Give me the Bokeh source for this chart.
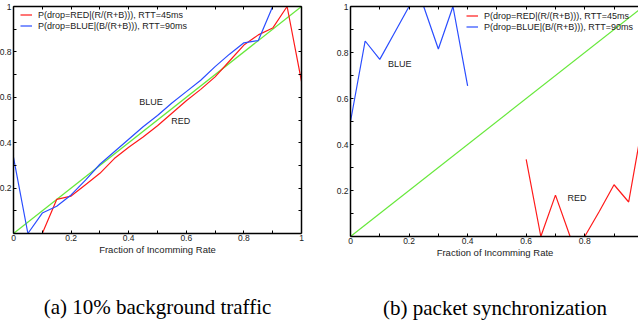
from bokeh.plotting import figure
from bokeh.models import (LinearAxis, FixedTicker, Legend, LegendItem, Label,
                          Title, Range1d, CustomLabelingPolicy)
from bokeh.layouts import row
from bokeh.embed import file_html
from bokeh.resources import INLINE

# ---------------- data ----------------
x_major = [0.0, 0.2, 0.4, 0.6, 0.8, 1.0]
x_major_labels = ["0", "0.2", "0.4", "0.6", "0.8", "1"]
y_major = [0.2, 0.4, 0.6, 0.8, 1.0]
y_major_labels = ["0.2", "0.4", "0.6", "0.8", "1"]
minor = [0.1, 0.3, 0.5, 0.7, 0.9]

diag_x = [0.0, 1.0]
diag_y = [0.0, 1.0]

# (a) 10% background traffic
a_red_x = [0.10, 0.15, 0.20, 0.25, 0.30, 0.35, 0.40, 0.45, 0.50, 0.55, 0.60,
           0.65, 0.70, 0.75, 0.80, 0.85, 0.90, 0.95, 1.00]
a_red_y = [0.00, 0.15, 0.165, 0.215, 0.265, 0.33, 0.38, 0.425, 0.475, 0.53,
           0.585, 0.635, 0.69, 0.76, 0.83, 0.875, 0.905, 1.00, 0.67]
a_blue_x = [0.00, 0.05, 0.10, 0.15, 0.20, 0.25, 0.30, 0.35, 0.40, 0.45, 0.50,
            0.55, 0.60, 0.65, 0.70, 0.75, 0.80, 0.85, 0.90]
a_blue_y = [0.335, 0.00, 0.09, 0.12, 0.17, 0.235, 0.305, 0.36, 0.415, 0.47,
            0.52, 0.575, 0.625, 0.675, 0.735, 0.79, 0.84, 0.85, 1.00]

# (b) packet synchronization
b_blue_x = [0.00, 0.05, 0.10, 0.15, 0.20, 0.25, 0.30, 0.35, 0.40]
b_blue_y = [0.50, 0.85, 0.77, 0.885, 1.00, 1.00, 0.815, 1.00, 0.655]
b_red_x = [0.60, 0.65, 0.70, 0.75, 0.80, 0.85, 0.90, 0.95, 1.00]
b_red_y = [0.335, 0.00, 0.18, 0.00, 0.00, 0.11, 0.225, 0.15, 0.51]

red_label = "P(drop=RED|(R/(R+B))), RTT=45ms"
blue_label = "P(drop=BLUE|(B/(R+B))), RTT=90ms"
x_title = "Fraction of Incomming Rate"
captions = ["(a) 10% background traffic", "(b) packet synchronization"]

RED = "#ff1a1a"
BLUE = "#2a4dff"
GREEN = "#66e83a"
TXT = "#222222"
SANS = "Liberation Sans"

NO_LABELS = CustomLabelingPolicy(code="""
    const ids = [...indices]
    for (const i of ids) indices.unset(i)
    return indices
""")


def axis(kind, labels):
    if kind == "x":
        ticker = FixedTicker(ticks=x_major, minor_ticks=minor)
        overrides = dict(zip(x_major, x_major_labels))
    else:
        ticker = FixedTicker(ticks=y_major, minor_ticks=minor)
        overrides = dict(zip(y_major, y_major_labels))
    ax = LinearAxis(ticker=ticker, major_label_overrides=overrides,
                    axis_line_color="black", axis_line_width=1.5,
                    major_tick_in=3, major_tick_out=0,
                    minor_tick_in=3, minor_tick_out=0,
                    major_tick_line_color="black", minor_tick_line_color="black",
                    major_label_text_font=SANS,
                    major_label_text_color=TXT)
    if labels:
        ax.major_label_text_font_size = "8.5px"
        ax.major_label_standoff = 2 if kind == "y" else 1
    else:
        ax.major_label_text_font_size = "1px"
        ax.major_label_standoff = 0
        ax.major_label_policy = NO_LABELS
    return ax


def make(frame_w, frame_h, xend, mb_left, mb_right, mb_bottom, right_axis):
    p = figure(frame_width=frame_w, frame_height=frame_h,
               x_range=Range1d(0, xend), y_range=Range1d(0, 1),
               output_backend="svg", toolbar_location=None,
               x_axis_location=None, y_axis_location=None,
               min_border_left=mb_left, min_border_right=mb_right,
               min_border_top=6, min_border_bottom=mb_bottom,
               outline_line_color=None)
    for g in p.grid:
        g.visible = False
    bx = axis("x", True)
    bx.axis_label = x_title
    bx.axis_label_standoff = 0
    bx.axis_label_text_font = SANS
    bx.axis_label_text_font_size = "9.5px"
    bx.axis_label_text_font_style = "normal"
    bx.axis_label_text_color = TXT
    p.add_layout(bx, "below")
    p.add_layout(axis("y", True), "left")
    p.add_layout(axis("x", False), "above")
    if right_axis:
        p.add_layout(axis("y", False), "right")
    p.line(diag_x, diag_y, color=GREEN, line_width=1.2)
    return p


def legend(p, r_red, r_blue, loc):
    lg = Legend(items=[LegendItem(label=red_label, renderers=[r_red]),
                       LegendItem(label=blue_label, renderers=[r_blue])],
                location=loc, label_text_font=SANS, label_text_font_size="9px",
                label_text_color=TXT, label_height=11, glyph_height=11,
                glyph_width=12, label_standoff=6, spacing=0, padding=0,
                margin=0, border_line_color=None, background_fill_alpha=0)
    p.add_layout(lg)


def caption(p, text, standoff):
    t = Title(text=text, align="center", text_font="Liberation Serif",
              text_font_size="21px", text_font_style="normal",
              text_color="black", standoff=standoff, vertical_align="bottom")
    p.add_layout(t, "below")


# left panel
p1 = make(288, 227, 1.0, 0, 8, 93, True)
r1 = p1.line(a_red_x, a_red_y, color=RED, line_width=1.2)
b1 = p1.line(a_blue_x, a_blue_y, color=BLUE, line_width=1.2)
legend(p1, r1, b1, (7, 202))
p1.add_layout(Label(x=0.437, y=0.58, text="BLUE", text_font=SANS,
                    text_font_size="9px", text_color=TXT,
                    text_baseline="middle"))
p1.add_layout(Label(x=0.548, y=0.495, text="RED", text_font=SANS,
                    text_font_size="9px", text_color=TXT,
                    text_baseline="middle"))
caption(p1, captions[0], 70)
p1.styles = {"margin-left": "-4px"}

# right panel
p2 = make(289, 230, 0.987, 41, 0, 90, False)
r2 = p2.line(b_red_x, b_red_y, color=RED, line_width=1.2)
b2 = p2.line(b_blue_x, b_blue_y, color=BLUE, line_width=1.2)
legend(p2, r2, b2, (116, 204))
p2.add_layout(Label(x=0.128, y=0.752, text="BLUE", text_font=SANS,
                    text_font_size="9px", text_color=TXT,
                    text_baseline="middle"))
p2.add_layout(Label(x=0.741, y=0.166, text="RED", text_font=SANS,
                    text_font_size="9px", text_color=TXT,
                    text_baseline="middle"))
caption(p2, captions[1], 67)

layout = row(p1, p2)
open("out.html", "w").write(file_html(layout, INLINE))
